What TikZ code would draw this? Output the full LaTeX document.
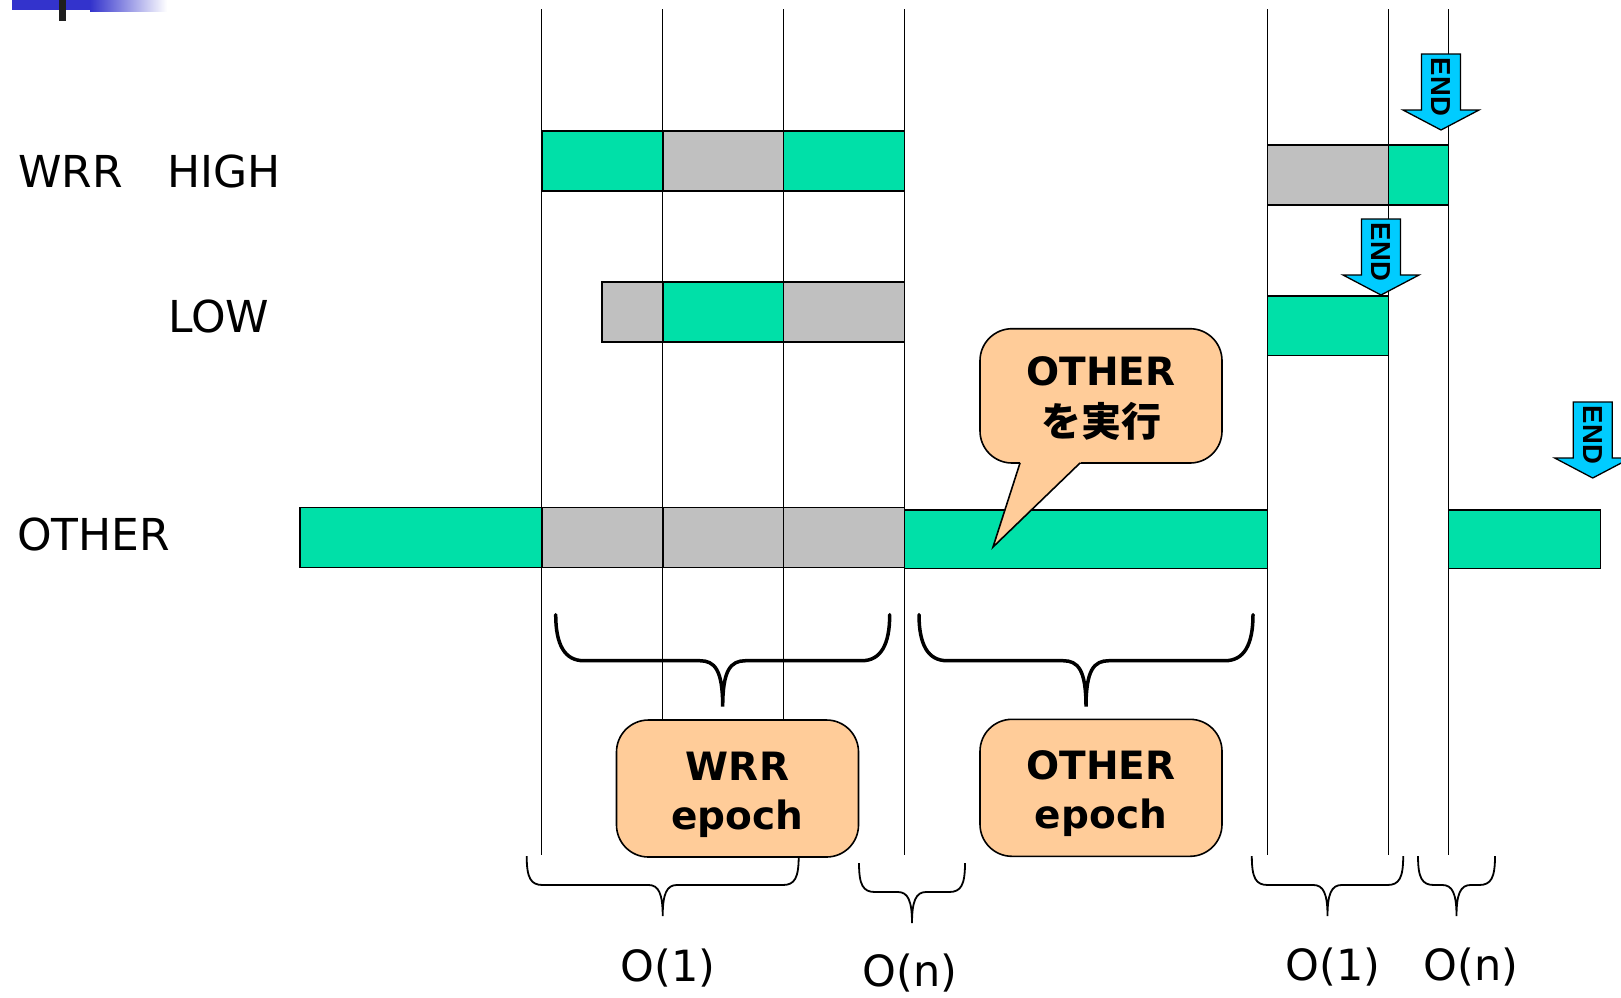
\documentclass[tikz,border=0pt]{standalone}
\usepackage{fontspec}
\setmainfont{DejaVu Sans}
\newfontfamily\endfont{Liberation Sans}
\newfontfamily\cjkfont{Noto Sans CJK JP}
\definecolor{barg}{RGB}{0,224,168}
\definecolor{barx}{RGB}{192,192,192}
\definecolor{peach}{RGB}{255,204,153}
\definecolor{arrowc}{RGB}{0,204,255}
\definecolor{topblue}{RGB}{51,51,204}
\tikzset{
  bargreen/.style={draw=black, line width=1.6pt, fill=barg},
  bargray/.style={draw=black, line width=1.6pt, fill=barx},
  vline/.style={line width=1.3pt},
  lab/.style={font=\fontsize{44}{53}\selectfont, inner sep=0pt, anchor=base west},
  olab/.style={font=\fontsize{43}{52}\selectfont, inner sep=0pt, anchor=base},
  boxtxt/.style={font=\fontsize{39}{46}\selectfont\bfseries, inner sep=0pt, anchor=base},
  epochbox/.style={draw=black, line width=1.6pt, fill=peach, rounded corners=32pt,
    minimum width=242pt, minimum height=137pt, inner sep=0pt},
  endarrow/.pic={
    \filldraw[fill=arrowc, draw=black, line width=1.3pt, line join=miter]
      (-19.5,-76) -- (19.5,-76) -- (19.5,-20) -- (38,-20) -- (0,0) -- (-38,-20) -- (-19.5,-20) -- cycle;
    \node[rotate=-90, font=\endfont\fontsize{27.5}{30}\selectfont\bfseries, inner sep=0pt] (-txt) at (0,-43) {END};
  },
  bigbrace/.pic={
    \draw[line width=3.5pt, line cap=round]
      (-167,-92) .. controls (-167,-62) and (-158,-46) .. (-139,-46) -- (-23,-46)
      .. controls (-8,-46) and (0,-37) .. (0,0)
      .. controls (0,-37) and (8,-46) .. (23,-46) -- (139,-46)
      .. controls (158,-46) and (167,-62) .. (167,-92);
  },
  smallbrace/.pic={
    \draw[line width=1.8pt]
      (-#1,-60) .. controls (-#1,-38) and (-#1+4,-31) .. (-#1+16,-31) -- (-14,-31)
      .. controls (-4,-31) and (0,-22) .. (0,0)
      .. controls (0,-22) and (4,-31) .. (14,-31) -- (#1-16,-31)
      .. controls (#1-4,-31) and (#1,-38) .. (#1,-60);
  }
}
\begin{document}
\begin{tikzpicture}[x=1pt,y=-1pt]
\useasboundingbox (0,0) rectangle (1621,997);
% top-left decoration
\fill[topblue] (12,0) rectangle (90,10);
\shade[left color=topblue, right color=white] (90,0) rectangle (167,11);
\fill[black!88] (59.3,0) rectangle (65.7,21);
% vertical lines
\draw[vline] (541.7,9) -- (541.7,855);
\draw[vline] (662.7,9) -- (662.7,720);
\draw[vline] (783.6,9) -- (783.6,720);
\draw[vline] (904.6,9) -- (904.6,855);
\draw[vline] (1267.4,9) -- (1267.4,855);
\draw[vline] (1388.4,9) -- (1388.4,855);
\draw[vline] (1448.4,9) -- (1448.4,855);
% HIGH row
\draw[bargreen] (541.7,131) rectangle (662.7,191);
\draw[bargray]  (662.7,131) rectangle (783.6,191);
\draw[bargreen] (783.6,131) rectangle (904.6,191);
\draw[bargray]  (1267.4,144.7) rectangle (1388.4,204.7);
\draw[bargreen] (1388.4,144.7) rectangle (1448.4,204.7);
% LOW row
\draw[bargray]  (601.7,282) rectangle (662.7,342);
\draw[bargreen] (662.7,282) rectangle (783.6,342);
\draw[bargray]  (783.6,282) rectangle (904.6,342);
\draw[bargreen] (1267.4,295.7) rectangle (1388.4,355.6);
% OTHER row
\draw[bargreen] (299.8,507.6) rectangle (541.7,567.6);
\draw[bargray]  (541.7,507.6) rectangle (662.7,567.6);
\draw[bargray]  (662.7,507.6) rectangle (783.6,567.6);
\draw[bargray]  (783.6,507.6) rectangle (904.6,567.6);
\draw[bargreen] (904.6,509.7) rectangle (1267.4,568.6);
\draw[bargreen] (1448.4,509.7) rectangle (1600.3,568.6);
% row labels
\node[lab] (lwrr) at (18,187) {WRR};
\node[lab] (lhigh) at (167,187) {HIGH};
\node[lab] (llow) at (168,332) {LOW};
\node[lab] (lother) at (17,550) {OTHER};
% END arrows
\pic (e1) at (1441,130) {endarrow};
\pic (e2) at (1381,295) {endarrow};
\pic (e3) at (1592.7,478) {endarrow};
% callout
\node[epochbox, minimum height=134.3pt] (cbox) at (1101,395.85) {};
\fill[peach] (993,547) -- (1021.3,459) -- (1084.1,459) -- cycle;
\draw[line width=1.6pt, line join=miter] (1020,463) -- (993,547) -- (1080,463);
\node[boxtxt] (c1) at (1101,385) {OTHER};
\node[inner sep=0pt, anchor=base, font=\cjkfont\fontsize{40}{46}\selectfont\bfseries] (c2) at (1101,436) {を実行};
% big braces
\pic (b1) at (722.7,706.7) {bigbrace};
\pic (b2) at (1086,706.7) {bigbrace};
% epoch boxes
\node[epochbox] (wbox) at (737.5,788.5) {};
\node[boxtxt] (w1) at (737.5,780) {WRR};
\node[boxtxt] (w2) at (737.5,829) {epoch};
\node[epochbox] (obox) at (1101,787.8) {};
\node[boxtxt] (o1) at (1101,779) {OTHER};
\node[boxtxt] (o2) at (1101,828) {epoch};
% small braces
\pic (s1) at (662.7,916) {smallbrace=136};
\pic (s2) at (912,923) {smallbrace=53};
\pic (s3) at (1327.5,916) {smallbrace=75.7};
\pic (s4) at (1456.5,916) {smallbrace=38.5};
% complexity labels
\node[olab] (t1) at (668,981.7) {O(1)};
\node[olab] (t2) at (910,986.7) {O(n)};
\node[olab] (t3) at (1333,980) {O(1)};
\node[olab] (t4) at (1471,980) {O(n)};
\end{tikzpicture}
\end{document}
